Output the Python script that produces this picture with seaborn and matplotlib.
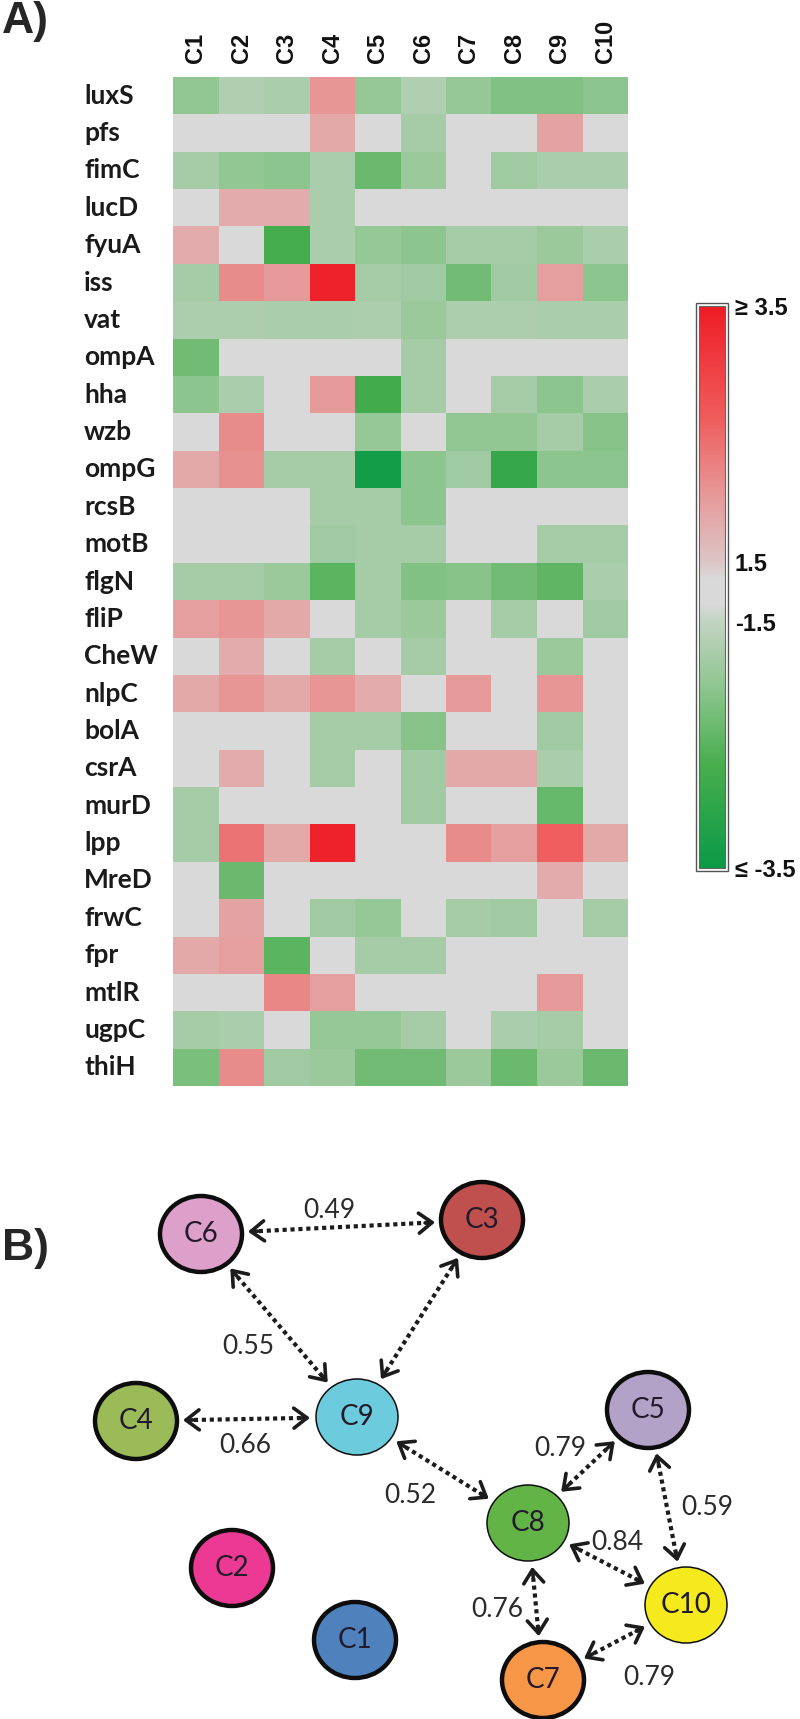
import numpy as np
import pandas as pd
import seaborn as sns
import matplotlib.pyplot as plt
from matplotlib.colors import LinearSegmentedColormap, FuncNorm
from matplotlib.patches import Ellipse, Rectangle, FancyArrowPatch

# ---- panel A data: fold changes per gene (rows) and cluster (columns) ----
clusters = ["C1", "C2", "C3", "C4", "C5", "C6", "C7", "C8", "C9", "C10"]
genes = ["luxS", "pfs", "fimC", "lucD", "fyuA", "iss", "vat", "ompA", "hha", "wzb",
         "ompG", "rcsB", "motB", "flgN", "fliP", "CheW", "nlpC", "bolA", "csrA",
         "murD", "lpp", "MreD", "frwC", "fpr", "mtlR", "ugpC", "thiH"]
fold_change = [
    [-2.0, -1.7, -1.75, 2.05, -1.95, -1.7, -1.95, -2.15, -2.15, -2.05],
    [0, 0, 0, 1.85, 0, -1.8, 0, 0, 1.9, 0],
    [-1.8, -2.0, -2.05, -1.75, -2.35, -1.9, 0, -1.85, -1.75, -1.75],
    [0, 1.8, 1.8, -1.75, 0, 0, 0, 0, 0, 0],
    [1.8, 0, -2.7, -1.75, -1.95, -2.05, -1.8, -1.8, -1.9, -1.75],
    [-1.8, 2.15, 2.0, 3.4, -1.8, -1.85, -2.3, -1.85, 1.95, -2.05],
    [-1.72, -1.72, -1.75, -1.75, -1.72, -1.9, -1.72, -1.72, -1.75, -1.75],
    [-2.3, 0, 0, 0, 0, -1.8, 0, 0, 0, 0],
    [-2.05, -1.75, 0, 2.0, -2.75, -1.8, 0, -1.8, -2.05, -1.75],
    [0, 2.15, 0, 0, -1.95, 0, -2.0, -2.0, -1.8, -2.1],
    [1.85, 2.1, -1.8, -1.8, -3.4, -2.05, -1.85, -2.9, -2.05, -2.05],
    [0, 0, 0, -1.8, -1.8, -2.05, 0, 0, 0, 0],
    [0, 0, 0, -1.85, -1.8, -1.8, 0, 0, -1.8, -1.8],
    [-1.8, -1.8, -1.9, -2.5, -1.8, -2.15, -2.1, -2.3, -2.45, -1.75],
    [1.95, 2.05, 1.85, 0, -1.8, -1.9, 0, -1.8, 0, -1.85],
    [0, 1.8, 0, -1.8, 0, -1.8, 0, 0, -1.9, 0],
    [1.85, 2.05, 1.85, 2.05, 1.8, 0, 2.0, 0, 2.05, 0],
    [0, 0, 0, -1.8, -1.8, -2.1, 0, 0, -1.85, 0],
    [0, 1.8, 0, -1.8, 0, -1.85, 1.85, 1.85, -1.75, 0],
    [-1.8, 0, 0, 0, 0, -1.85, 0, 0, -2.4, 0],
    [-1.8, 2.4, 1.85, 3.4, 0, 0, 2.15, 1.95, 2.6, 1.85],
    [0, -2.35, 0, 0, 0, 0, 0, 0, 1.8, 0],
    [0, 1.9, 0, -1.85, -1.95, 0, -1.8, -1.85, 0, -1.8],
    [1.85, 1.95, -2.5, 0, -1.8, -1.8, 0, 0, 0, 0],
    [0, 0, 2.2, 1.95, 0, 0, 0, 0, 2.0, 0],
    [-1.8, -1.75, 0, -1.95, -1.95, -1.8, 0, -1.75, -1.8, 0],
    [-2.2, 2.15, -1.85, -1.9, -2.3, -2.3, -1.9, -2.35, -1.9, -2.35],
]
cbar_ticks = [-3.5, -1.5, 1.5, 3.5]
cbar_labels = ["\u2264 -3.5", "-1.5", "1.5", "\u2265 3.5"]

# ---- panel B data: cluster network ----
node_names = ["C1", "C2", "C3", "C4", "C5", "C6", "C7", "C8", "C9", "C10"]
node_x = [355, 232, 482, 136, 648, 201, 543, 528, 357, 686]
node_y = [1640, 1568, 1220, 1421, 1410, 1234, 1680, 1523, 1417, 1605]
node_colors = ["#4f81bd", "#ec3a94", "#c0504d", "#9bbb59", "#b3a2c7",
               "#dca0cb", "#f79646", "#62b446", "#6ccbdc", "#f4ea1e"]
node_thick = [True, True, True, True, True, True, True, False, False, False]
edge_a = ["C6", "C6", "C3", "C4", "C9", "C8", "C5", "C8", "C8", "C7"]
edge_b = ["C3", "C9", "C9", "C9", "C8", "C5", "C10", "C10", "C7", "C10"]
edge_labels = ["0.49", "0.55", "", "0.66", "0.52", "0.79", "0.59", "0.84", "0.76", "0.79"]
label_dx = [-12, -31, 0, -1, -32, -28, 40, 10, -38, 35]
label_dy = [-17, 21, 0, 26, 25, -18, 0, -22, 8, 35]

sns.set_theme(style="white")
plt.rcParams["font.family"] = ["Liberation Sans", "DejaVu Sans"]

W, H = 800, 1719
fig = plt.figure(figsize=(W / 100, H / 100), dpi=100)


def rect(x0, y0, x1, y1):
    return [x0 / W, 1 - y1 / H, (x1 - x0) / W, (y1 - y0) / H]


ax = fig.add_axes(rect(173, 77, 628, 1086))
cax = fig.add_axes(rect(699, 306, 725, 868))

# colour scale: gray band between -1.5 and 1.5, stretched ends
cb_frac = [0.0, 0.4385, 0.544, 1.0]
norm = FuncNorm((lambda v: np.interp(v, cbar_ticks, cb_frac),
                 lambda f: np.interp(f, cb_frac, cbar_ticks)), vmin=-3.5, vmax=3.5)
cmap = LinearSegmentedColormap.from_list("gr", [
    (0.0, "#0b9a47"), (0.18, "#47ad4d"), (0.32, "#8ec58f"), (0.4385, "#c2d4c2"),
    (0.47, "#d9d9d9"), (0.515, "#d9d9d9"), (0.544, "#ddc6c6"), (0.66, "#e69a9a"),
    (0.8, "#ef5d5d"), (1.0, "#ee1c24")])

df = pd.DataFrame(fold_change, index=genes, columns=clusters)
sns.heatmap(df, ax=ax, cmap=cmap, norm=norm, cbar_ax=cax,
            xticklabels=clusters, yticklabels=genes)

ax.xaxis.tick_top()
ax.tick_params(axis="x", length=0, pad=10)
ax.tick_params(axis="y", length=0, pad=64)
for t in ax.get_xticklabels():
    t.set_rotation(90)
    t.set_fontsize(17)
    t.set_fontweight("bold")
    t.set_color("#111111")
for t in ax.get_yticklabels():
    t.set_rotation(0)
    t.set_horizontalalignment("left")
    t.set_fontsize(19)
    t.set_fontweight("bold")
    t.set_family(["Lato", "DejaVu Sans"])
    t.set_color("#1a1a1a")

cb = ax.collections[0].colorbar
cb.set_ticks(cbar_ticks)
cb.set_ticklabels(cbar_labels)
cax.tick_params(length=0, pad=7)
for t in cax.get_yticklabels():
    t.set_fontsize(17)
    t.set_fontweight("bold")
    t.set_color("#111111")
cb.outline.set_edgecolor("#666666")
cb.outline.set_linewidth(0.8)
fig.patches.append(Rectangle((696 / W, 1 - 871 / H), 32 / W, 568 / H, transform=fig.transFigure,
                             fill=False, edgecolor="#555555", linewidth=1.0))

fig.text(2 / W, 1 - 33 / H, "A)", fontsize=32, fontweight="bold", ha="left", va="baseline")

# ---- panel B ----
nax = fig.add_axes(rect(0, 1150, 800, 1719))
nax.set_xlim(0, 800)
nax.set_ylim(1719, 1150)
nax.axis("off")
fig.text(2 / W, 1 - 1260 / H, "B)", fontsize=32, fontweight="bold", ha="left", va="baseline")

A_SEMI, B_SEMI = 41, 38
pos = {n: np.array([x, y], float) for n, x, y in zip(node_names, node_x, node_y)}


def boundary(d):
    return 1.0 / np.sqrt((d[0] / A_SEMI) ** 2 + (d[1] / B_SEMI) ** 2)


for a, b, lab, dx, dy in zip(edge_a, edge_b, edge_labels, label_dx, label_dy):
    pa, pb = pos[a], pos[b]
    d = (pb - pa) / np.linalg.norm(pb - pa)
    gap = 6
    s = pa + d * (boundary(d) + gap)
    e = pb - d * (boundary(d) + gap)
    nax.plot([s[0] + d[0] * 3, e[0] - d[0] * 3], [s[1] + d[1] * 3, e[1] - d[1] * 3],
             color="#1c1c1c", lw=3.0, dashes=(1.0, 0.9), zorder=2)
    for tip, back in [(s, s + d * 10), (e, e - d * 10)]:
        nax.add_patch(FancyArrowPatch(back, tip, arrowstyle="->,head_length=0.95,head_width=0.72",
                                      mutation_scale=10, lw=2.6, color="#1c1c1c",
                                      shrinkA=0, shrinkB=0, zorder=3))
    if lab:
        m = (pa + pb) / 2
        nax.text(m[0] + dx, m[1] + dy, lab, fontsize=19, ha="center", va="center",
                 color="#2b2b2b", family=["Lato", "DejaVu Sans"], zorder=4)

for n, x, y, c, thick in zip(node_names, node_x, node_y, node_colors, node_thick):
    nax.add_patch(Ellipse((x, y), 2 * A_SEMI, 2 * B_SEMI, facecolor=c,
                          edgecolor="#0d0d0d", lw=3.2 if thick else 1.1, zorder=5))
    nax.text(x, y, n, fontsize=20, ha="center", va="center", color="#221a2a",
             family=["Lato", "DejaVu Sans"], zorder=6)

fig.savefig("out.png", dpi=100)
